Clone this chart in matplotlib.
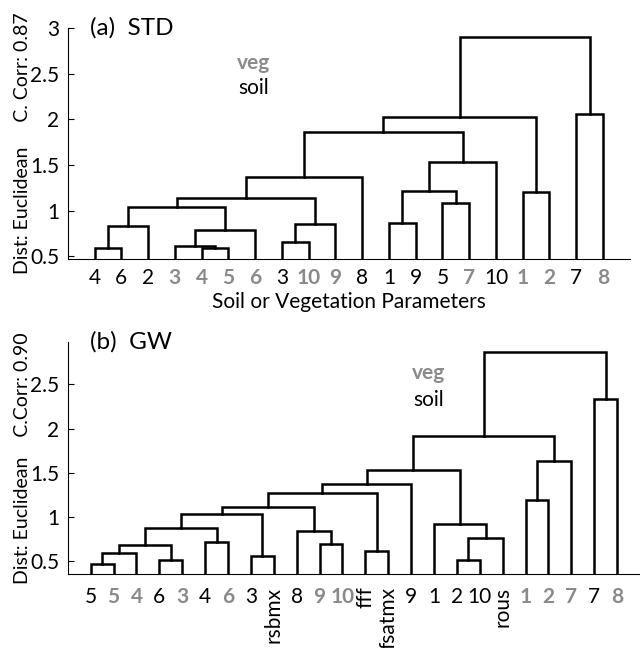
import matplotlib
matplotlib.use("Agg")
import matplotlib.pyplot as plt

plt.rcParams['font.family'] = ['Lato', 'DejaVu Sans']

GRAY = '#8a8a8a'

# (a) STD: leaves in plotted order, veg flag, linkage [child a, child b, height]
std_labels = ['4', '6', '2', '3', '4', '5', '6', '3', '10', '9',
              '8', '1', '9', '5', '7', '10', '1', '2', '7', '8']
std_veg = [0, 0, 0, 1, 1, 1, 1, 0, 1, 1,
           0, 0, 0, 0, 1, 0, 1, 1, 0, 1]
std_links = [
    [0, 1, 0.588], [4, 5, 0.595], [3, 21, 0.61], [7, 8, 0.66],
    [22, 6, 0.785], [20, 2, 0.836], [23, 9, 0.854], [11, 12, 0.865],
    [25, 24, 1.04], [13, 14, 1.08], [28, 26, 1.135], [16, 17, 1.20],
    [27, 29, 1.215], [30, 10, 1.37], [32, 15, 1.53], [33, 34, 1.86],
    [35, 31, 2.03], [18, 19, 2.06], [36, 37, 2.90],
]

# (b) GW
gw_labels = ['5', '5', '4', '6', '3', '4', '6', '3', 'rsbmx', '8', '9', '10',
             'fff', 'fsatmx', '9', '1', '2', '10', 'rous', '1', '2', '7', '7', '8']
gw_veg = [0, 1, 1, 0, 1, 0, 1, 0, 0, 0, 1, 1,
          0, 0, 0, 0, 0, 0, 0, 1, 1, 1, 0, 1]
gw_links = [
    [0, 1, 0.47], [3, 4, 0.508], [16, 17, 0.515], [7, 8, 0.557],
    [24, 2, 0.594], [12, 13, 0.61], [28, 25, 0.685], [10, 11, 0.696],
    [5, 6, 0.715], [26, 18, 0.757], [9, 31, 0.836], [30, 32, 0.874],
    [15, 33, 0.915], [35, 27, 1.036], [37, 34, 1.11], [19, 20, 1.194],
    [38, 29, 1.27], [40, 14, 1.368], [41, 36, 1.527], [39, 21, 1.628],
    [42, 43, 1.919], [22, 23, 2.334], [44, 45, 2.866],
]


def draw_dendro(ax, labels, veg, links):
    n = len(labels)
    xs = list(range(1, n + 1))
    hs = [0.0] * n
    for a, b, h in links:
        xa, xb = xs[a], xs[b]
        ax.plot([xa, xa, xb, xb], [hs[a], h, h, hs[b]], color='black',
                lw=1.8, solid_joinstyle='miter')
        xs.append((xa + xb) / 2)
        hs.append(h)
    ax.set_xlim(0, n + 1)
    ax.set_xticks(range(1, n + 1))
    ax.set_xticklabels(labels)
    for lab, v in zip(ax.get_xticklabels(), veg):
        if v:
            lab.set_color(GRAY)
            lab.set_fontweight('bold')
        if len(lab.get_text()) > 2:
            lab.set_rotation(90)
            lab.set_va('top')
    ax.tick_params(axis='x', length=0, labelsize=15)
    ax.tick_params(axis='y', direction='in', length=4, labelsize=15, pad=6)
    ax.spines['top'].set_visible(False)
    ax.spines['right'].set_visible(False)


fig = plt.figure(figsize=(6.4, 6.48), dpi=100)

ax1 = fig.add_axes([0.106, 0.600, 0.878, 0.357])
draw_dendro(ax1, std_labels, std_veg, std_links)
ax1.set_ylim(0.47, 3.0)
ax1.set_yticks([0.5, 1, 1.5, 2, 2.5, 3])
ax1.set_yticklabels(['0.5', '1', '1.5', '2', '2.5', '3'])
ax1.tick_params(axis='x', pad=6)
ax1.set_xlabel('Soil or Vegetation Parameters', fontsize=15, labelpad=3)
ax1.set_ylabel('Dist: Euclidean     C. Corr: 0.87', fontsize=14)
ax1.yaxis.set_label_coords(-0.066, 0.5)
ax1.text(0.04, 1.0, '(a)  STD', transform=ax1.transAxes, fontsize=17.5,
         va='center', ha='left')
ax1.text(0.33, 0.85, 'veg', transform=ax1.transAxes, fontsize=15,
         color=GRAY, fontweight='bold', ha='center', va='center')
ax1.text(0.33, 0.74, 'soil', transform=ax1.transAxes, fontsize=15,
         ha='center', va='center')

ax2 = fig.add_axes([0.106, 0.114, 0.894, 0.358])
draw_dendro(ax2, gw_labels, gw_veg, gw_links)
ax2.set_ylim(0.35, 2.98)
ax2.set_yticks([0.5, 1, 1.5, 2, 2.5])
ax2.set_yticklabels(['0.5', '1', '1.5', '2', '2.5'])
ax2.tick_params(axis='x', pad=9)
ax2.set_ylabel('Dist: Euclidean    C.Corr: 0.90', fontsize=14)
ax2.yaxis.set_label_coords(-0.065, 0.5)
ax2.text(0.038, 1.0, '(b)  GW', transform=ax2.transAxes, fontsize=17.5,
         va='center', ha='left')
ax2.text(0.63, 0.866, 'veg', transform=ax2.transAxes, fontsize=15,
         color=GRAY, fontweight='bold', ha='center', va='center')
ax2.text(0.63, 0.75, 'soil', transform=ax2.transAxes, fontsize=15,
         ha='center', va='center')

fig.savefig('out.png', dpi=100)
